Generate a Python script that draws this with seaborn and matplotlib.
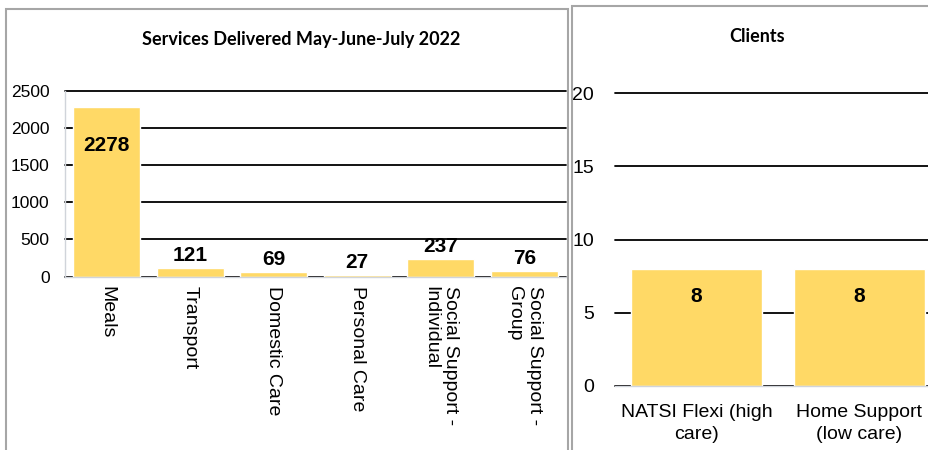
import seaborn as sns
import pandas as pd
import matplotlib.pyplot as plt
from matplotlib.patches import Rectangle

# services delivered May-June-July 2022
services = ["Meals", "Transport", "Domestic Care", "Personal Care",
            "Social Support -\nIndividual", "Social Support -\nGroup"]
service_counts = [2278, 121, 69, 27, 237, 76]

# clients
client_types = ["NATSI Flexi (high\ncare)", "Home Support\n(low care)"]
client_counts = [8, 8]

bar_color = "#FFD966"
grid_color = "black"
base_color = "#D0D4DA"
frame_color = "#A6A6A6"

sns.set_style("white")
plt.rcParams["font.family"] = ["Liberation Sans", "DejaVu Sans"]
plt.rcParams["text.color"] = "black"
plt.rcParams["xtick.color"] = "black"
plt.rcParams["ytick.color"] = "black"

svc = pd.DataFrame({"service": services, "count": service_counts})
cli = pd.DataFrame({"client": client_types, "count": client_counts})

fig = plt.figure(figsize=(9.29, 4.5), dpi=100)

# panel frames
fig.patches.append(Rectangle((6 / 929, -0.1), 562 / 929, 0.1 + 441 / 450,
                             transform=fig.transFigure, fill=False,
                             edgecolor=frame_color, lw=1.5))
fig.patches.append(Rectangle((572 / 929, -0.1), 1.0, 0.1 + 444 / 450,
                             transform=fig.transFigure, fill=False,
                             edgecolor=frame_color, lw=1.5))

title_font = dict(family=["Lato", "DejaVu Sans"], weight="bold", size=13)
label_font = dict(family=["Liberation Sans Narrow", "Liberation Sans", "DejaVu Sans"],
                  weight="bold", size=15)

# left chart
ax1 = fig.add_axes([65 / 929, 1 - 276.7 / 450, 501 / 929, 186 / 450])
sns.barplot(data=svc, x="service", y="count", color=bar_color, width=0.8,
            saturation=1, ax=ax1, zorder=2)
ax1.set_ylim(0, 2500)
ax1.set_yticks(range(0, 2501, 500))
ax1.set_xlim(-0.5, len(services) - 0.5)
ax1.set_axisbelow(True)
ax1.yaxis.grid(True, color=grid_color, lw=1.3, clip_on=False)
ax1.set_xlabel("")
ax1.set_ylabel("")
for s in ["top", "right"]:
    ax1.spines[s].set_visible(False)
for s in ["left", "bottom"]:
    ax1.spines[s].set_color(base_color)
    ax1.spines[s].set_linewidth(1.0)
ax1.tick_params(axis="y", length=0, pad=11, labelsize=12.5)
ax1.tick_params(axis="x", length=0, pad=7, labelsize=14)
for lab in ax1.get_xticklabels():
    lab.set_rotation(270)
    lab.set_ha("center")
    lab.set_va("top")
    lab.set_multialignment("left")
for i, v in enumerate(service_counts):
    if v > 1000:
        ax1.text(i, v - 520, str(v), ha="center", va="center", **label_font)
    else:
        ax1.text(i, v + 40, str(v), ha="center", va="bottom", **label_font)
fig.text(301 / 929, 1 - 40 / 450, "Services Delivered May-June-July 2022",
         ha="center", va="center", **title_font)

# right chart
ax2 = fig.add_axes([615 / 929, 1 - 386 / 450, 326 / 929, 293 / 450])
sns.barplot(data=cli, x="client", y="count", color=bar_color, width=0.8,
            saturation=1, ax=ax2, zorder=2)
ax2.set_ylim(0, 20)
ax2.set_yticks(range(0, 21, 5))
ax2.set_xlim(-0.5, len(client_types) - 0.5)
ax2.set_axisbelow(True)
ax2.yaxis.grid(True, color=grid_color, lw=1.3, clip_on=False)
ax2.set_xlabel("")
ax2.set_ylabel("")
for s in ["top", "right", "left"]:
    ax2.spines[s].set_visible(False)
ax2.spines["bottom"].set_color(base_color)
ax2.spines["bottom"].set_linewidth(1.0)
ax2.tick_params(axis="y", length=0, pad=15, labelsize=14)
ax2.tick_params(axis="x", length=0, pad=13, labelsize=14)
for lab in ax2.get_xticklabels():
    lab.set_linespacing(1.35)
for i, v in enumerate(client_counts):
    ax2.text(i, v - 1.9, str(v), ha="center", va="center", **label_font)
fig.text(757 / 929, 1 - 37 / 450, "Clients", ha="center", va="center",
         **title_font)

fig.savefig("out.png", dpi=100)
